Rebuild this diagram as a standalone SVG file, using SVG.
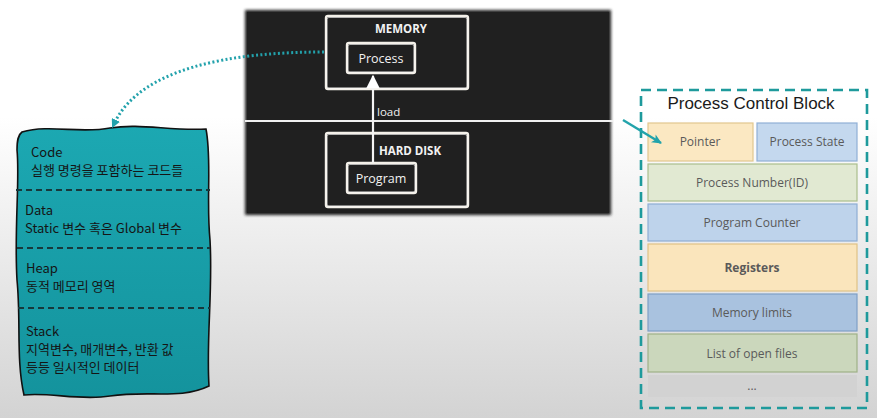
<svg xmlns="http://www.w3.org/2000/svg" width="877" height="418" viewBox="0 0 877 418">
<defs>
<linearGradient id="bg" x1="0" y1="0" x2="0" y2="1">
<stop offset="0" stop-color="#ffffff"/>
<stop offset="0.28" stop-color="#ffffff"/>
<stop offset="1" stop-color="#d3d3d3"/>
</linearGradient>
<linearGradient id="teal" x1="0" y1="0" x2="0" y2="1">
<stop offset="0" stop-color="#1ca8b2"/>
<stop offset="1" stop-color="#14939d"/>
</linearGradient>
<filter id="soft" x="-5%" y="-5%" width="110%" height="110%">
<feGaussianBlur stdDeviation="1.6"/>
</filter>
<marker id="dotHead" viewBox="0 0 10 10" refX="5" refY="5" markerWidth="3" markerHeight="3" orient="auto" markerUnits="strokeWidth">
<path d="M0,0 L10,5 L0,10 Z" fill="#23a2ac"/>
</marker>
<marker id="openHead" viewBox="0 0 12 12" refX="10" refY="6" markerWidth="5" markerHeight="5" orient="auto" markerUnits="strokeWidth">
<path d="M1,1.5 L11,6 L1,10.5 L3.5,6 Z" fill="#22a3ab"/>
</marker>
<marker id="loadHead" viewBox="0 0 10 10" refX="9" refY="5" markerWidth="6" markerHeight="6" orient="auto" markerUnits="strokeWidth">
<path d="M0,0 L10,5 L0,10 Z" fill="#ffffff"/>
</marker>
</defs>
<style>
.sketch{fill:none;stroke:#f4f1ea;stroke-width:2.4;stroke-linejoin:round}
.sketch2{fill:none;stroke:#ffffff;stroke-width:1;opacity:0.55}
.wtitle{font-family:"Open Sans","Noto Sans",sans-serif;font-size:11.5px;font-weight:bold;fill:#f2f2f2;text-anchor:middle}
.wlabel{font-family:"Open Sans","Noto Sans",sans-serif;font-size:12.5px;fill:#f2f2f2;text-anchor:middle}
.mem{font-family:"Noto Sans CJK KR","Noto Sans",sans-serif;font-size:13px;fill:#151515}
.field{stroke-width:1.2}
.ftext{font-family:"Open Sans","Noto Sans",sans-serif;font-size:12px;fill:#5a5a5a;text-anchor:middle}
.divider{stroke:#17393c;stroke-width:1.8;stroke-dasharray:6 4}
</style>

<rect x="0" y="0" width="877" height="418" fill="url(#bg)"/>

<g id="dark-panel">
<rect x="245" y="10" width="366" height="205" fill="#1e1e1e" filter="url(#soft)"/>
<rect x="247" y="12" width="362" height="201" fill="#202020"/>
<line x1="245" y1="121" x2="613" y2="121" stroke="#f0f0f0" stroke-width="2"/>
</g>

<g id="memory">
<rect x="326" y="16" width="142" height="73" rx="2" class="sketch"/>
<rect x="327" y="17.5" width="140" height="70.5" rx="2" class="sketch2"/>
<text x="401" y="33" class="wtitle">MEMORY</text>
</g>

<g id="process">
<rect x="347" y="43" width="68" height="30" rx="2" class="sketch"/>
<rect x="348" y="44.5" width="66" height="27.5" rx="2" class="sketch2"/>
<text x="381" y="63" class="wlabel">Process</text>
</g>

<g id="hard-disk">
<rect x="326" y="133" width="142" height="74" rx="2" class="sketch"/>
<rect x="327" y="134.5" width="140" height="71.5" rx="2" class="sketch2"/>
<text x="410" y="155" class="wtitle">HARD DISK</text>
</g>

<g id="program">
<rect x="347" y="163" width="69" height="30" rx="2" class="sketch"/>
<rect x="348" y="164.5" width="67" height="27.5" rx="2" class="sketch2"/>
<text x="381" y="183" class="wlabel">Program</text>
</g>

<g id="memory-layout">
<path d="M 22 132 C 50 124, 80 134, 110 128 C 140 123, 170 131, 206 129 C 212 160, 206 200, 210 240 C 213 290, 206 340, 209 386 C 180 400, 150 390, 110 396 C 80 401, 50 392, 24 395 C 16 360, 21 320, 17 280 C 14 230, 20 180, 17 150 C 17 140, 18 135, 22 132 Z" fill="url(#teal)" stroke="#111" stroke-width="1.6"/>
<line x1="16" y1="190" x2="210" y2="190" class="divider"/>
<line x1="17" y1="248" x2="210" y2="248" class="divider"/>
<line x1="18" y1="308" x2="210" y2="308" class="divider"/>
<text x="31" y="157" class="mem">Code</text>
<text x="31" y="175" class="mem">실행 명령을 포함하는 코드들</text>
<text x="25" y="215" class="mem">Data</text>
<text x="25" y="233" class="mem">Static 변수 혹은 Global 변수</text>
<text x="26" y="273" class="mem">Heap</text>
<text x="26" y="291" class="mem">동적 메모리 영역</text>
<text x="26" y="336" class="mem">Stack</text>
<text x="26" y="354" class="mem">지역변수, 매개변수, 반환 값</text>
<text x="26" y="372" class="mem">등등 일시적인 데이터</text>
</g>

<g id="pcb">
<rect x="641" y="90" width="226" height="318" fill="none" stroke="#1e9a9c" stroke-width="2.6" stroke-dasharray="10 6"/>
<text x="751" y="109" font-family="'Liberation Sans',Arial,sans-serif" font-size="17" fill="#1a1a1a" text-anchor="middle">Process Control Block</text>
</g>

<g id="pcb-pointer">
<rect x="648" y="123" width="105" height="38" fill="#fbe8c2" stroke="#e2c68e" class="field"/>
<text x="700" y="146" class="ftext">Pointer</text>
</g>
<g id="pcb-state">
<rect x="757" y="123" width="100" height="38" fill="#c4d8ee" stroke="#90b0d6" class="field"/>
<text x="807" y="146" class="ftext">Process State</text>
</g>
<g id="pcb-id">
<rect x="648" y="164" width="209" height="37" fill="#e1e9d2" stroke="#abbe8d" class="field"/>
<text x="752" y="187" class="ftext">Process Number(ID)</text>
</g>
<g id="pcb-pc">
<rect x="648" y="204" width="209" height="37" fill="#bed3eb" stroke="#8eaed4" class="field"/>
<text x="752" y="227" class="ftext">Program Counter</text>
</g>
<g id="pcb-registers">
<rect x="648" y="244" width="209" height="47" fill="#fae5bc" stroke="#dfc185" class="field"/>
<text x="752" y="272" class="ftext" font-weight="bold" fill="#4a4a4a">Registers</text>
</g>
<g id="pcb-memlimits">
<rect x="648" y="294" width="209" height="37" fill="#a9c2df" stroke="#7f9fc6" class="field"/>
<text x="752" y="317" class="ftext">Memory limits</text>
</g>
<g id="pcb-files">
<rect x="648" y="334" width="209" height="38" fill="#cbd7bc" stroke="#9fb188" class="field"/>
<text x="752" y="358" class="ftext">List of open files</text>
</g>
<g id="pcb-more">
<rect x="648" y="375" width="209" height="22" fill="#d2d2d2"/>
<text x="752" y="390" class="ftext" font-size="10" fill="#888">...</text>
</g>

<g id="connectors">
<line x1="373" y1="163" x2="373" y2="76" stroke="#f4f4f4" stroke-width="2.2" marker-end="url(#loadHead)"/>
<text x="377" y="116" font-family="'Open Sans','Noto Sans',sans-serif" font-size="11.5" fill="#f0f0f0">load</text>
<path d="M 324 52 C 230 52, 140 68, 114 124" fill="none" stroke="#23a2ac" stroke-width="3" stroke-dasharray="2 2.4" marker-end="url(#dotHead)"/>
<line x1="623" y1="120" x2="661" y2="143" stroke="#22a3ab" stroke-width="2.4" marker-end="url(#openHead)"/>
</g>
</svg>
